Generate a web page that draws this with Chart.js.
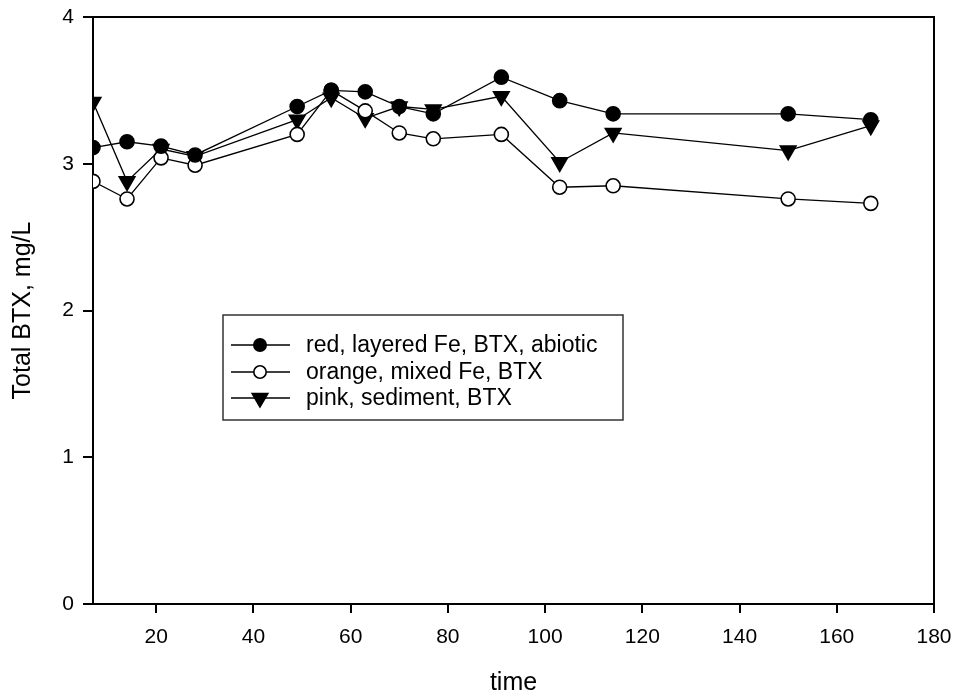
<!DOCTYPE html>
<html>
<head>
<meta charset="utf-8">
<title>Total BTX over time</title>
<script src="https://cdn.jsdelivr.net/npm/chart.js@4/dist/chart.umd.min.js"></script>
<style>
  html, body { margin: 0; padding: 0; background: #fff; }
  #chart { display: block; }
</style>
</head>
<body>
<canvas id="chart" width="955" height="700"></canvas>
<script>
// Sampling times
const times = [7, 14, 21, 28, 49, 56, 63, 70, 77, 91, 103, 114, 150, 167];

// Total BTX (mg/L) per column
const redLayered   = [3.11, 3.15, 3.12, 3.06, 3.39, 3.50, 3.49, 3.39, 3.34, 3.59, 3.43, 3.34, 3.34, 3.30];
const orangeMixed  = [2.88, 2.76, 3.04, 2.99, 3.20, 3.50, 3.36, 3.21, 3.17, 3.20, 2.84, 2.85, 2.76, 2.73];
const pinkSediment = [3.42, 2.88, 3.10, 3.05, 3.30, 3.45, 3.31, 3.39, 3.37, 3.46, 3.01, 3.21, 3.09, 3.26];

const seriesLabels = ['red, layered Fe, BTX, abiotic', 'orange, mixed Fe, BTX', 'pink, sediment, BTX'];

const xTicks = [20, 40, 60, 80, 100, 120, 140, 160, 180];
const yTicks = [0, 1, 2, 3, 4];

const FONT = 'Liberation Sans, Arial, sans-serif';

function pts(ys) {
    return times.map((t, i) => ({ x: t, y: ys[i] }));
}

// marker looks, shared by the datasets and the legend
const markers = [
    { style: 'circle',   radius: 7, fill: '#000', stroke: '#000', rotation: 0 },
    { style: 'circle',   radius: 7, fill: '#fff', stroke: '#000', rotation: 0 },
    { style: 'triangle', radius: 9, fill: '#000', stroke: '#000', rotation: 180 }
];

function drawMarker(ctx, m, x, y) {
    ctx.save();
    ctx.fillStyle = m.fill;
    ctx.strokeStyle = m.stroke;
    ctx.lineWidth = 1.6;
    ctx.beginPath();
    if (m.style === 'circle') {
        ctx.arc(x, y, m.radius - 0.8, 0, Math.PI * 2);
    } else {
        let rad = m.rotation * Math.PI / 180;
        for (let k = 0; k < 3; k++) {
            const px = x + Math.sin(rad) * m.radius, py = y - Math.cos(rad) * m.radius;
            if (k === 0) ctx.moveTo(px, py); else ctx.lineTo(px, py);
            rad += 2 * Math.PI / 3;
        }
        ctx.closePath();
    }
    ctx.fill();
    ctx.stroke();
    ctx.restore();
}

// top and right edges of the plot frame
const frameBox = {
    id: 'frameBox',
    afterDatasetsDraw(chart) {
        const a = chart.chartArea, ctx = chart.ctx;
        ctx.save();
        ctx.strokeStyle = '#000';
        ctx.lineWidth = 2;
        ctx.beginPath();
        ctx.moveTo(a.left, a.top);
        ctx.lineTo(a.right, a.top);
        ctx.lineTo(a.right, a.bottom);
        ctx.stroke();
        ctx.restore();
    }
};

// boxed legend inside the plot
const boxLegend = {
    id: 'boxLegend',
    afterDraw(chart) {
        const ctx = chart.ctx;
        const bx = 223, by = 315, bw = 400, bh = 105;
        ctx.save();
        ctx.fillStyle = '#fff';
        ctx.fillRect(bx, by, bw, bh);
        ctx.strokeStyle = '#333';
        ctx.lineWidth = 1.5;
        ctx.strokeRect(bx, by, bw, bh);
        ctx.font = '23px ' + FONT;
        ctx.textBaseline = 'middle';
        ctx.fillStyle = '#000';
        const rows = [345, 372, 398];
        seriesLabels.forEach((lab, i) => {
            const y = rows[i];
            ctx.strokeStyle = '#000';
            ctx.lineWidth = 1.3;
            ctx.beginPath();
            ctx.moveTo(231, y);
            ctx.lineTo(290, y);
            ctx.stroke();
            drawMarker(ctx, markers[i], 260, y);
            ctx.fillStyle = '#000';
            ctx.fillText(lab, 306, y + 1);
        });
        ctx.restore();
    }
};

function makeSet(label, ys, m) {
    return {
        label: label,
        data: pts(ys),
        showLine: true,
        borderColor: '#000',
        borderWidth: 1.3,
        pointStyle: m.style,
        pointRadius: m.radius,
        pointRotation: m.rotation,
        pointBackgroundColor: m.fill,
        pointBorderColor: m.stroke,
        pointBorderWidth: 1.6,
        tension: 0
    };
}

new Chart(document.getElementById('chart'), {
    type: 'scatter',
    data: {
        datasets: [
            makeSet(seriesLabels[0], redLayered, markers[0]),
            makeSet(seriesLabels[1], orangeMixed, markers[1]),
            makeSet(seriesLabels[2], pinkSediment, markers[2])
        ]
    },
    options: {
        responsive: false,
        animation: false,
        events: [],
        layout: { padding: { top: 17, right: 21, left: 0, bottom: 0 } },
        plugins: {
            legend: { display: false },
            tooltip: { enabled: false }
        },
        scales: {
            x: {
                type: 'linear',
                min: 7,
                max: 180,
                afterBuildTicks(scale) { scale.ticks = xTicks.map(v => ({ value: v })); },
                // fixed height, and no extra room for the "180" overhang
                afterFit(scale) { scale.height = 96; scale.paddingLeft = 0; scale.paddingRight = 0; },
                grid: { display: true, drawOnChartArea: false, drawTicks: true, tickLength: 9, color: '#000', lineWidth: 2 },
                border: { display: true, color: '#000', width: 2 },
                ticks: { color: '#000', font: { family: FONT, size: 21 }, padding: 12, maxRotation: 0 },
                title: { display: true, text: 'time', color: '#000', font: { family: FONT, size: 25 }, padding: { top: 0, bottom: 2 } }
            },
            y: {
                min: 0,
                max: 4,
                afterBuildTicks(scale) { scale.ticks = yTicks.map(v => ({ value: v })); },
                afterFit(scale) { scale.width = 93; scale.paddingTop = 0; scale.paddingBottom = 0; },
                grid: { display: true, drawOnChartArea: false, drawTicks: true, tickLength: 10, color: '#000', lineWidth: 2 },
                border: { display: true, color: '#000', width: 2 },
                ticks: { color: '#000', font: { family: FONT, size: 21 }, padding: 9 },
                title: { display: true, text: 'Total BTX, mg/L', color: '#000', font: { family: FONT, size: 25 }, padding: { top: 8, bottom: 0 } }
            }
        }
    },
    plugins: [frameBox, boxLegend]
});
</script>
</body>
</html>
